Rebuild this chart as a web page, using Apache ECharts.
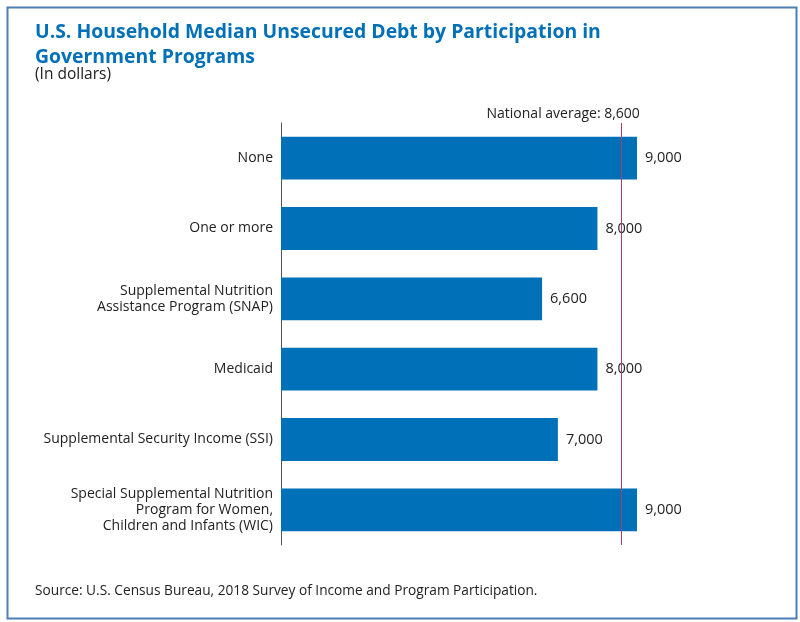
<!DOCTYPE html>
<html><head><meta charset="utf-8">
<script src="https://cdn.jsdelivr.net/npm/echarts@6/dist/echarts.min.js"></script>
<style>html,body{margin:0;padding:0;background:#fff}#c{width:800px;height:622px}</style>
</head><body><div id="c"></div>
<script>
const categories = [
  "None",
  "One or more",
  "Supplemental Nutrition\nAssistance Program (SNAP)",
  "Medicaid",
  "Supplemental Security Income (SSI)",
  "Special Supplemental Nutrition\nProgram for Women,\nChildren and Infants (WIC)"
];
const values = [9000, 8000, 6600, 8000, 7000, 9000];
const nationalAverage = 8600;
const titleText = "U.S. Household Median Unsecured Debt by Participation in\nGovernment Programs";
const subtitleText = "(In dollars)";
const sourceText = "Source: U.S. Census Bureau, 2018 Survey of Income and Program Participation.";

const fmt = v => v.toLocaleString('en-US');
const FONT = "Open Sans";
const chart = echarts.init(document.getElementById('c'), null, {renderer: 'canvas'});
chart.setOption({
  animation: false,
  backgroundColor: '#fff',
  textStyle: {fontFamily: FONT},
  graphic: [
    {type: 'rect', left: 5, top: 5, shape: {width: 789, height: 611},
     style: {fill: 'none', stroke: '#4f7cb3', lineWidth: 2}},
    {type: 'text', left: 35, top: 20,
     style: {text: titleText, fill: '#0070b8', font: "bold 19.4px 'Open Sans'", lineHeight: 25}},
    {type: 'text', left: 35, top: 67,
     style: {text: subtitleText, fill: '#222', font: "15.5px 'Open Sans'"}},
    {type: 'text', left: 35, top: 584,
     style: {text: sourceText, fill: '#222', font: "13.7px 'Open Sans'"}}
  ],
  grid: {left: 281, top: 123, width: 356, height: 422, containLabel: false},
  xAxis: {type: 'value', min: 0, max: 9000, show: false},
  yAxis: {
    type: 'category', data: categories, inverse: true,
    axisLine: {show: true, lineStyle: {color: '#555', width: 1}},
    axisTick: {show: false},
    axisLabel: {color: '#222', fontSize: 14, lineHeight: 16, margin: 8, fontFamily: FONT}
  },
  series: [{
    type: 'bar', data: values, barCategoryGap: '39%',
    itemStyle: {color: '#0070b8'},
    z: 2,
    label: {show: true, position: 'right', distance: 8, color: '#222', fontSize: 14.5,
            fontFamily: FONT, formatter: p => fmt(p.value)},
    markLine: {
      silent: true, symbol: 'none', z: 5,
      lineStyle: {color: '#a3406b', width: 1, type: 'solid'},
      label: {show: true, position: 'start', distance: 2,
              formatter: 'National average: ' + fmt(nationalAverage),
              color: '#222', fontSize: 14, fontFamily: FONT, offset: [-58, 0]},
      data: [{xAxis: nationalAverage}]
    }
  }]
});
</script></body></html>
